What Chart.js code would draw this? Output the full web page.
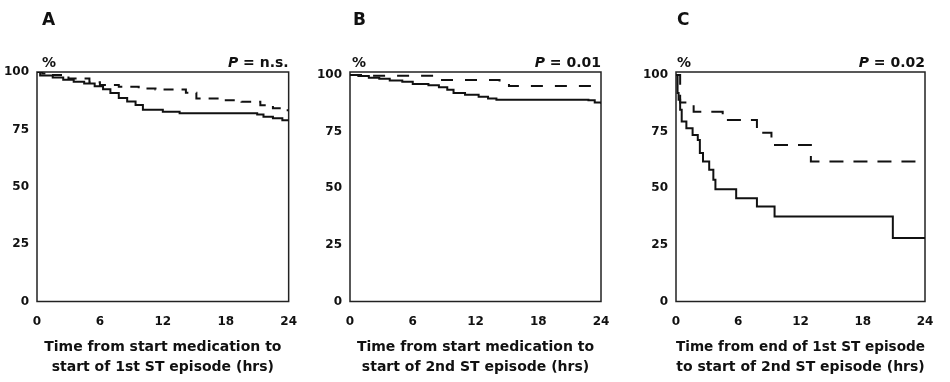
<!DOCTYPE html>
<html>
<head>
<meta charset="utf-8">
<script src="https://cdn.jsdelivr.net/npm/chart.js@4.4.1/dist/chart.umd.min.js"></script>
<style>
    html, body { margin: 0; padding: 0; background: #fff; }
    #wrap  { position: relative; width: 950px; height: 382px; }
    .panel { position: absolute; top: 0; height: 382px; }
</style>
</head>
<body>
<div id="wrap">
    <div class="panel" style="left:0;width:310px"><canvas id="chartA"></canvas></div>
    <div class="panel" style="left:310px;width:320px"><canvas id="chartB"></canvas></div>
    <div class="panel" style="left:630px;width:320px"><canvas id="chartC"></canvas></div>
</div>
<script>
(function () {
    'use strict';

    /* ── Datos (horas, % libre de evento) ─────────────── */
    var X_TICKS = [0, 6, 12, 18, 24];
    var Y_TICKS = [0, 25, 50, 75, 100];

    var A_SOLID_T = [0, 0.3, 1.5, 2.5, 3.5, 4.5, 5.5, 6.3, 7, 7.8, 8.6, 9.4, 10.1, 12, 13.6, 21, 21.6, 22.5, 23.4, 24];
    var A_SOLID_S = [100, 98.5, 97.6, 96.6, 95.8, 95, 93.8, 92.5, 90.8, 88.7, 87.2, 85.6, 83.6, 82.7, 82, 81.5, 80.5, 79.8, 79, 78.6];
    var A_DASH_T  = [0, 0.5, 1.2, 3, 5, 6, 7.8, 9.7, 11.3, 14.2, 15.2, 17.4, 19.5, 21.3, 22.5, 23.5, 24];
    var A_DASH_S  = [100, 99.3, 98.7, 97.2, 95.5, 94.3, 93.6, 92.8, 92.4, 91, 88.5, 87.7, 87, 85.5, 84.2, 83.3, 83.3];

    var B_SOLID_T = [0, 0.8, 1.8, 2.8, 3.8, 5, 6, 7.5, 8.5, 9.3, 9.9, 11, 12.3, 13.2, 14, 22.8, 23.4, 24];
    var B_SOLID_S = [100, 99.5, 98.8, 98.3, 97.6, 97, 96, 95.5, 94.6, 93.5, 92, 91.3, 90.4, 89.6, 89, 88.8, 87.8, 87.3];
    var B_DASH_T  = [0, 1.2, 8.8, 14.3, 15.2, 24];
    var B_DASH_S  = [100, 99.6, 97.8, 96.8, 95.1, 95.1];

    var C_SOLID_T = [0, 0.15, 0.25, 0.4, 0.55, 1.0, 1.6, 2.1, 2.3, 2.6, 3.2, 3.6, 3.8, 5.8, 7.8, 9.5, 20.9, 24];
    var C_SOLID_S = [100, 92, 89, 84.6, 79.4, 76.5, 73.5, 71.3, 65.5, 61.8, 58.1, 53.7, 49.6, 45.6, 41.9, 37.5, 28, 28];
    var C_DASH_T  = [0, 0.4, 1.7, 4.5, 7.8, 9.2, 13.0, 24];
    var C_DASH_S  = [100, 87.8, 83.8, 80.1, 74.5, 69.1, 61.8, 61.8];

    /* ── Estilo ───────────────────────────────────────── */
    var INK  = '#111';
    var FONT = '"DejaVu Sans", sans-serif';

    function pts(t, s) {
        return t.map(function (v, i) { return { x: v, y: s[i] }; });
    }

    /* ── Plugin: marco, letra de panel, % y valor P ───── */
    var frameLabels = {
        id: 'frameLabels',
        beforeDatasetsDraw: function (chart) {
            var a = chart.chartArea, ctx = chart.ctx;
            ctx.save();
            ctx.strokeStyle = '#222';
            ctx.lineWidth = 1.5;
            ctx.strokeRect(a.left, a.top, a.right - a.left, a.bottom - a.top);
            ctx.restore();
        },
        afterDraw: function (chart) {
            var o = chart.options.plugins.frameLabels;
            var a = chart.chartArea, ctx = chart.ctx;
            ctx.save();
            ctx.fillStyle = INK;
            ctx.textBaseline = 'middle';
            ctx.textAlign = 'left';
            ctx.font = 'bold 17px ' + FONT;
            ctx.fillText(o.letter, a.left + o.letterDx, 21);
            ctx.font = 'bold 14px ' + FONT;
            ctx.fillText('%', a.left + o.pctDx, 63);
            var rest = ' = ' + o.pValue;
            var wRest = ctx.measureText(rest).width;
            ctx.fillText(rest, a.right - wRest, 63);
            ctx.font = 'italic bold 14px ' + FONT;
            var wP = ctx.measureText('P').width;
            ctx.fillText('P', a.right - wRest - wP, 63);
            ctx.restore();
        }
    };

    function makePanel(id, cfg) {
        return new Chart(document.getElementById(id), {
            type: 'line',
            data: {
                datasets: [
                    {
                        data:        pts(cfg.solidT, cfg.solidS),
                        borderColor: INK,
                        borderWidth: 2,
                        pointRadius: 0,
                        stepped:     true
                    },
                    {
                        data:        pts(cfg.dashT, cfg.dashS),
                        borderColor: INK,
                        borderWidth: 2,
                        borderDash:  cfg.dash,
                        pointRadius: 0,
                        stepped:     true
                    }
                ]
            },
            options: {
                responsive: true,
                maintainAspectRatio: false,
                animation: false,
                events: [],
                layout: { padding: { top: 72, left: cfg.padLeft, right: cfg.padRight, bottom: 0 } },
                plugins: {
                    legend:  { display: false },
                    tooltip: { enabled: false },
                    frameLabels: {
                        letter:   cfg.letter,
                        letterDx: cfg.letterDx,
                        pctDx:    cfg.pctDx,
                        pValue:   cfg.pValue
                    }
                },
                scales: {
                    x: {
                        type: 'linear',
                        min: 0,
                        max: 24,
                        afterBuildTicks: function (s) { s.ticks = X_TICKS.map(function (v) { return { value: v }; }); },
                        afterFit: function (s) { s.height = 80.5; },
                        grid:   { display: false, drawTicks: false },
                        border: { display: false },
                        ticks:  { padding: 13, color: INK, font: { family: FONT, size: 12, weight: 'bold' } },
                        title: {
                            display: true,
                            text:    cfg.xTitle,
                            color:   INK,
                            padding: { top: 0, bottom: 5 },
                            font:    { family: FONT, size: 14, weight: 'bold', lineHeight: 20 / 14 }
                        }
                    },
                    y: {
                        min: 0,
                        max: cfg.yMax,
                        afterBuildTicks: function (s) { s.ticks = Y_TICKS.map(function (v) { return { value: v }; }); },
                        afterFit: function (s) { s.width = 37; },
                        grid:   { display: false, drawTicks: false },
                        border: { display: false },
                        ticks:  { padding: 8, color: INK, font: { family: FONT, size: 12, weight: 'bold' } }
                    }
                }
            },
            plugins: [frameLabels]
        });
    }

    makePanel('chartA', {
        letter: 'A', letterDx: 5, pctDx: 5, pValue: 'n.s.',
        padLeft: 0, padRight: 21, yMax: 100,
        solidT: A_SOLID_T, solidS: A_SOLID_S, dashT: A_DASH_T, dashS: A_DASH_S, dash: [10, 8],
        xTitle: ['Time from start medication to', 'start of 1st ST episode (hrs)']
    });
    makePanel('chartB', {
        letter: 'B', letterDx: 3, pctDx: 2, pValue: '0.01',
        padLeft: 3, padRight: 29, yMax: 101.3,
        solidT: B_SOLID_T, solidS: B_SOLID_S, dashT: B_DASH_T, dashS: B_DASH_S, dash: [12, 12],
        xTitle: ['Time from start medication to', 'start of 2nd ST episode (hrs)']
    });
    makePanel('chartC', {
        letter: 'C', letterDx: 1, pctDx: 1, pValue: '0.02',
        padLeft: 9, padRight: 25, yMax: 101.3,
        solidT: C_SOLID_T, solidS: C_SOLID_S, dashT: C_DASH_T, dashS: C_DASH_S, dash: [14, 10],
        xTitle: ['Time from end of 1st ST episode', 'to start of 2nd ST episode (hrs)']
    });
})();
</script>
</body>
</html>
